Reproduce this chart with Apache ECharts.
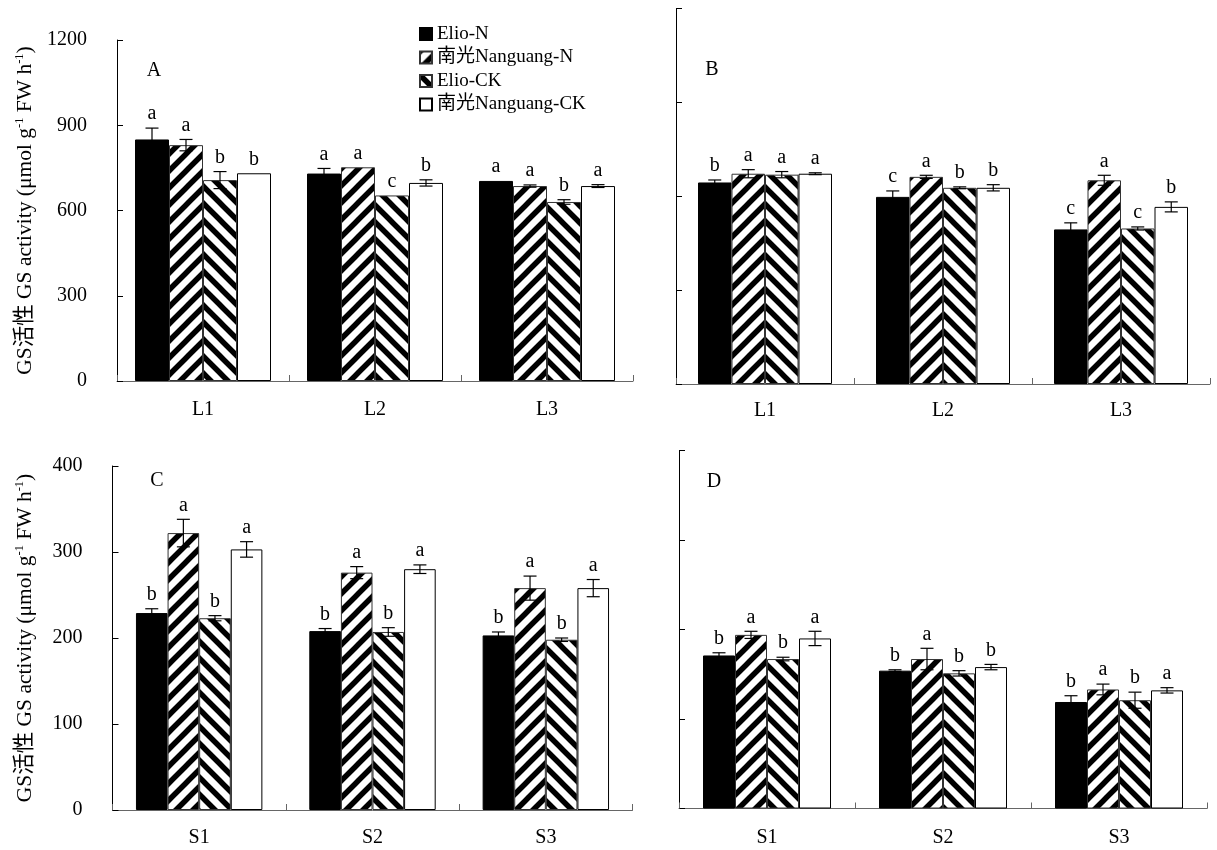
<!DOCTYPE html>
<html>
<head>
<meta charset="utf-8">
<script src="https://cdn.jsdelivr.net/npm/echarts@6/dist/echarts.min.js"></script>
<style>html,body{margin:0;padding:0;background:#fff;}#chart{width:1217px;height:850px;}</style>
</head>
<body>
<div id="chart"></div>
<script>
// ---------- data ----------
const catsL = ['L1', 'L2', 'L3'];
const catsS = ['S1', 'S2', 'S3'];
const seriesNames = ['Elio-N', '南光Nanguang-N', 'Elio-CK', '南光Nanguang-CK'];

// Panel A (leaf, y 0-1200)
const A_ElioN = [850, 730, 704];   const A_ElioN_err = [40, 18, 0];  const A_ElioN_let = ['a', 'a', 'a'];
const A_NanN  = [830, 752, 686];   const A_NanN_err  = [20, 0, 4];   const A_NanN_let  = ['a', 'a', 'a'];
const A_ElioCK = [707, 653, 630];  const A_ElioCK_err = [30, 0, 8];  const A_ElioCK_let = ['b', 'c', 'b'];
const A_NanCK = [731, 697, 686];   const A_NanCK_err = [0, 11, 5];   const A_NanCK_let = ['b', 'b', 'a'];

// Panel B (leaf)
const B_ElioN = [644, 598, 494];   const B_ElioN_err = [8, 19, 21];  const B_ElioN_let = ['b', 'c', 'c'];
const B_NanN  = [672, 662, 651];   const B_NanN_err  = [13, 5, 16];  const B_NanN_let  = ['a', 'a', 'a'];
const B_ElioCK = [669, 627, 497];  const B_ElioCK_err = [10, 3, 5];  const B_ElioCK_let = ['a', 'b', 'c'];
const B_NanCK = [672, 627, 566];   const B_NanCK_err = [3, 10, 16];  const B_NanCK_let = ['a', 'b', 'b'];

// Panel C (stem, y 0-400)
const C_ElioN = [229, 208, 203];   const C_ElioN_err = [5, 3, 4];    const C_ElioN_let = ['b', 'b', 'b'];
const C_NanN  = [322, 276, 258];   const C_NanN_err  = [16, 7, 14];  const C_NanN_let  = ['a', 'a', 'a'];
const C_ElioCK = [223, 207, 198];  const C_ElioCK_err = [3, 5, 2];   const C_ElioCK_let = ['b', 'b', 'b'];
const C_NanCK = [303, 280, 258];   const C_NanCK_err = [9, 5, 10];   const C_NanCK_let = ['a', 'a', 'a'];

// Panel D (stem)
const D_ElioN = [171, 154, 119];   const D_ElioN_err = [3, 1, 7];    const D_ElioN_let = ['b', 'b', 'b'];
const D_NanN  = [194, 167, 133];   const D_NanN_err  = [4, 12, 6];   const D_NanN_let  = ['a', 'a', 'a'];
const D_ElioCK = [167, 151, 121];  const D_ElioCK_err = [2, 3, 9];   const D_ElioCK_let = ['b', 'b', 'b'];
const D_NanCK = [190, 158, 132];   const D_NanCK_err = [8, 3, 3];    const D_NanCK_let = ['a', 'b', 'a'];

const yTicksLeaf = [0, 300, 600, 900, 1200];
const yTicksStem = [0, 100, 200, 300, 400];

// ---------- styles ----------
const FONT = '"Liberation Serif", "Times New Roman", "Noto Sans CJK SC", serif';

function stripe(dir) {
  const s = 17;
  const c = document.createElement('canvas');
  c.width = s; c.height = s;
  const g = c.getContext('2d');
  g.fillStyle = '#fff'; g.fillRect(0, 0, s, s);
  g.strokeStyle = '#000'; g.lineWidth = 5.5; g.lineCap = 'square';
  g.beginPath();
  for (let k = -1; k <= 1; k++) {
    if (dir === '/') { g.moveTo(k * s, s); g.lineTo(k * s + s, 0); }
    else { g.moveTo(k * s, 0); g.lineTo(k * s + s, s); }
  }
  g.stroke();
  return c;
}
const patFwd = stripe('/');
const patBack = stripe('\\');

const barStyles = [
  { color: '#000', borderColor: '#000', borderWidth: 1 },
  { color: { image: patFwd, repeat: 'repeat' }, borderColor: '#333', borderWidth: 1 },
  { color: { image: patBack, repeat: 'repeat' }, borderColor: '#333', borderWidth: 1 },
  { color: '#fff', borderColor: '#000', borderWidth: 1 }
];

const panels = [
  { vals: [A_ElioN, A_NanN, A_ElioCK, A_NanCK], errs: [A_ElioN_err, A_NanN_err, A_ElioCK_err, A_NanCK_err],
    lets: [A_ElioN_let, A_NanN_let, A_ElioCK_let, A_NanCK_let], cats: catsL, ticks: yTicksLeaf, bw: 34,
    grid: { left: 117, top: 40, width: 516, height: 341 }, labels: true, nameGap: 80, catMargin: 19 },
  { vals: [B_ElioN, B_NanN, B_ElioCK, B_NanCK], errs: [B_ElioN_err, B_NanN_err, B_ElioCK_err, B_NanCK_err],
    lets: [B_ElioN_let, B_NanN_let, B_ElioCK_let, B_NanCK_let], cats: catsL, ticks: yTicksLeaf, bw: 33.5,
    grid: { left: 676, top: 8.5, width: 534, height: 375.5 }, labels: false, catMargin: 17 },
  { vals: [C_ElioN, C_NanN, C_ElioCK, C_NanCK], errs: [C_ElioN_err, C_NanN_err, C_ElioCK_err, C_NanCK_err],
    lets: [C_ElioN_let, C_NanN_let, C_ElioCK_let, C_NanCK_let], cats: catsS, ticks: yTicksStem, bw: 31.6,
    grid: { left: 112.5, top: 466, width: 520, height: 344 }, labels: true, nameGap: 75.5, catMargin: 18 },
  { vals: [D_ElioN, D_NanN, D_ElioCK, D_NanCK], errs: [D_ElioN_err, D_NanN_err, D_ElioCK_err, D_NanCK_err],
    lets: [D_ElioN_let, D_NanN_let, D_ElioCK_let, D_NanCK_let], cats: catsS, ticks: yTicksStem, bw: 32,
    grid: { left: 679, top: 450.5, width: 528, height: 358 }, labels: false, catMargin: 19 }
];

const grids = [], xAxes = [], yAxes = [], series = [];
const yName = 'GS活性 GS activity (μmol g{sup|-1} FW h{sup|-1})';

panels.forEach((p, gi) => {
  grids.push(Object.assign({ containLabel: false }, p.grid));
  xAxes.push({
    type: 'category', gridIndex: gi, data: p.cats, boundaryGap: true,
    axisLine: { show: true, lineStyle: { color: '#666', width: 1 } },
    axisTick: { show: true, inside: true, length: 6, lineStyle: { color: '#666' } },
    axisLabel: { show: true, color: '#000', fontSize: 20, fontFamily: FONT, margin: p.catMargin },
    splitLine: { show: false }
  });
  const step = p.ticks[1] - p.ticks[0];
  yAxes.push({
    type: 'value', gridIndex: gi, min: p.ticks[0], max: p.ticks[p.ticks.length - 1], interval: step,
    axisLine: { show: true, lineStyle: { color: '#000', width: 1 } },
    axisTick: { show: true, inside: true, length: 6, lineStyle: { color: '#000' } },
    axisLabel: { show: p.labels, color: '#000', fontSize: 20, fontFamily: FONT, margin: 30,
                 formatter: (v) => String(v) },
    splitLine: { show: false },
    name: p.labels ? yName : '',
    nameLocation: 'middle', nameGap: p.nameGap || 0, nameRotate: 90,
    nameTextStyle: {
      color: '#000', fontSize: 21.5, fontFamily: FONT, lineHeight: 24,
      rich: { sup: { fontSize: 12.5, fontFamily: FONT, color: '#000', verticalAlign: 'top', lineHeight: 13 } }
    }
  });
  for (let si = 0; si < 4; si++) {
    series.push({
      type: 'bar', name: seriesNames[si], xAxisIndex: gi, yAxisIndex: gi,
      data: p.vals[si], barWidth: p.bw, barGap: '0%',
      itemStyle: barStyles[si], emphasis: { disabled: true }, silent: true, z: 2
    });
  }
  const errData = [];
  for (let si = 0; si < 4; si++) {
    for (let ci = 0; ci < p.cats.length; ci++) {
      errData.push([ci, p.vals[si][ci], p.errs[si][ci], si, p.lets[si][ci]]);
    }
  }
  series.push({
    type: 'custom', xAxisIndex: gi, yAxisIndex: gi, data: errData, z: 5, silent: true,
    encode: { x: 0, y: 1 },
    renderItem: (params, api) => {
      const ci = api.value(0), v = api.value(1), e = api.value(2), si = api.value(3);
      const letter = errData[params.dataIndex][4];
      const x = api.coord([ci, v])[0] + (si - 1.5) * p.bw;
      const yT = api.coord([ci, v + e])[1];
      const yB = api.coord([ci, v - e])[1];
      const hw = 6.5;
      const children = [];
      if (e > 0) {
        const ls = { stroke: '#000', lineWidth: 1.2 };
        children.push({ type: 'line', shape: { x1: x, y1: yT, x2: x, y2: yB }, style: ls });
        children.push({ type: 'line', shape: { x1: x - hw, y1: yT, x2: x + hw, y2: yT }, style: ls });
        children.push({ type: 'line', shape: { x1: x - hw, y1: yB, x2: x + hw, y2: yB }, style: ls });
      }
      children.push({
        type: 'text',
        style: { text: letter, x: x, y: yT - 4, fill: '#000', font: '20px ' + FONT,
                 align: 'center', verticalAlign: 'bottom', textAlign: 'center', textVerticalAlign: 'bottom' }
      });
      return { type: 'group', children: children };
    }
  });
});

const panelLetters = [['A', 154, 71], ['B', 712, 70], ['C', 157, 481], ['D', 714, 482]];

const option = {
  backgroundColor: '#fff',
  animation: false,
  grid: grids, xAxis: xAxes, yAxis: yAxes, series: series,
  legend: {
    data: seriesNames.map((n) => ({ name: n, icon: 'rect' })),
    orient: 'vertical', left: 414, top: 19,
    itemWidth: 12, itemHeight: 12, itemGap: 3.5,
    textStyle: { color: '#000', fontSize: 19, fontFamily: FONT, lineHeight: 20 },
    selectedMode: false
  },
  graphic: panelLetters.map(([t, x, y]) => ({
    type: 'text', x: x, y: y, silent: true,
    style: { text: t, fill: '#000', font: '20px ' + FONT, align: 'center', verticalAlign: 'middle',
             textAlign: 'center', textVerticalAlign: 'middle' }
  }))
};

const chart = echarts.init(document.getElementById('chart'), null, { renderer: 'canvas' });
chart.setOption(option);
</script>
</body>
</html>
